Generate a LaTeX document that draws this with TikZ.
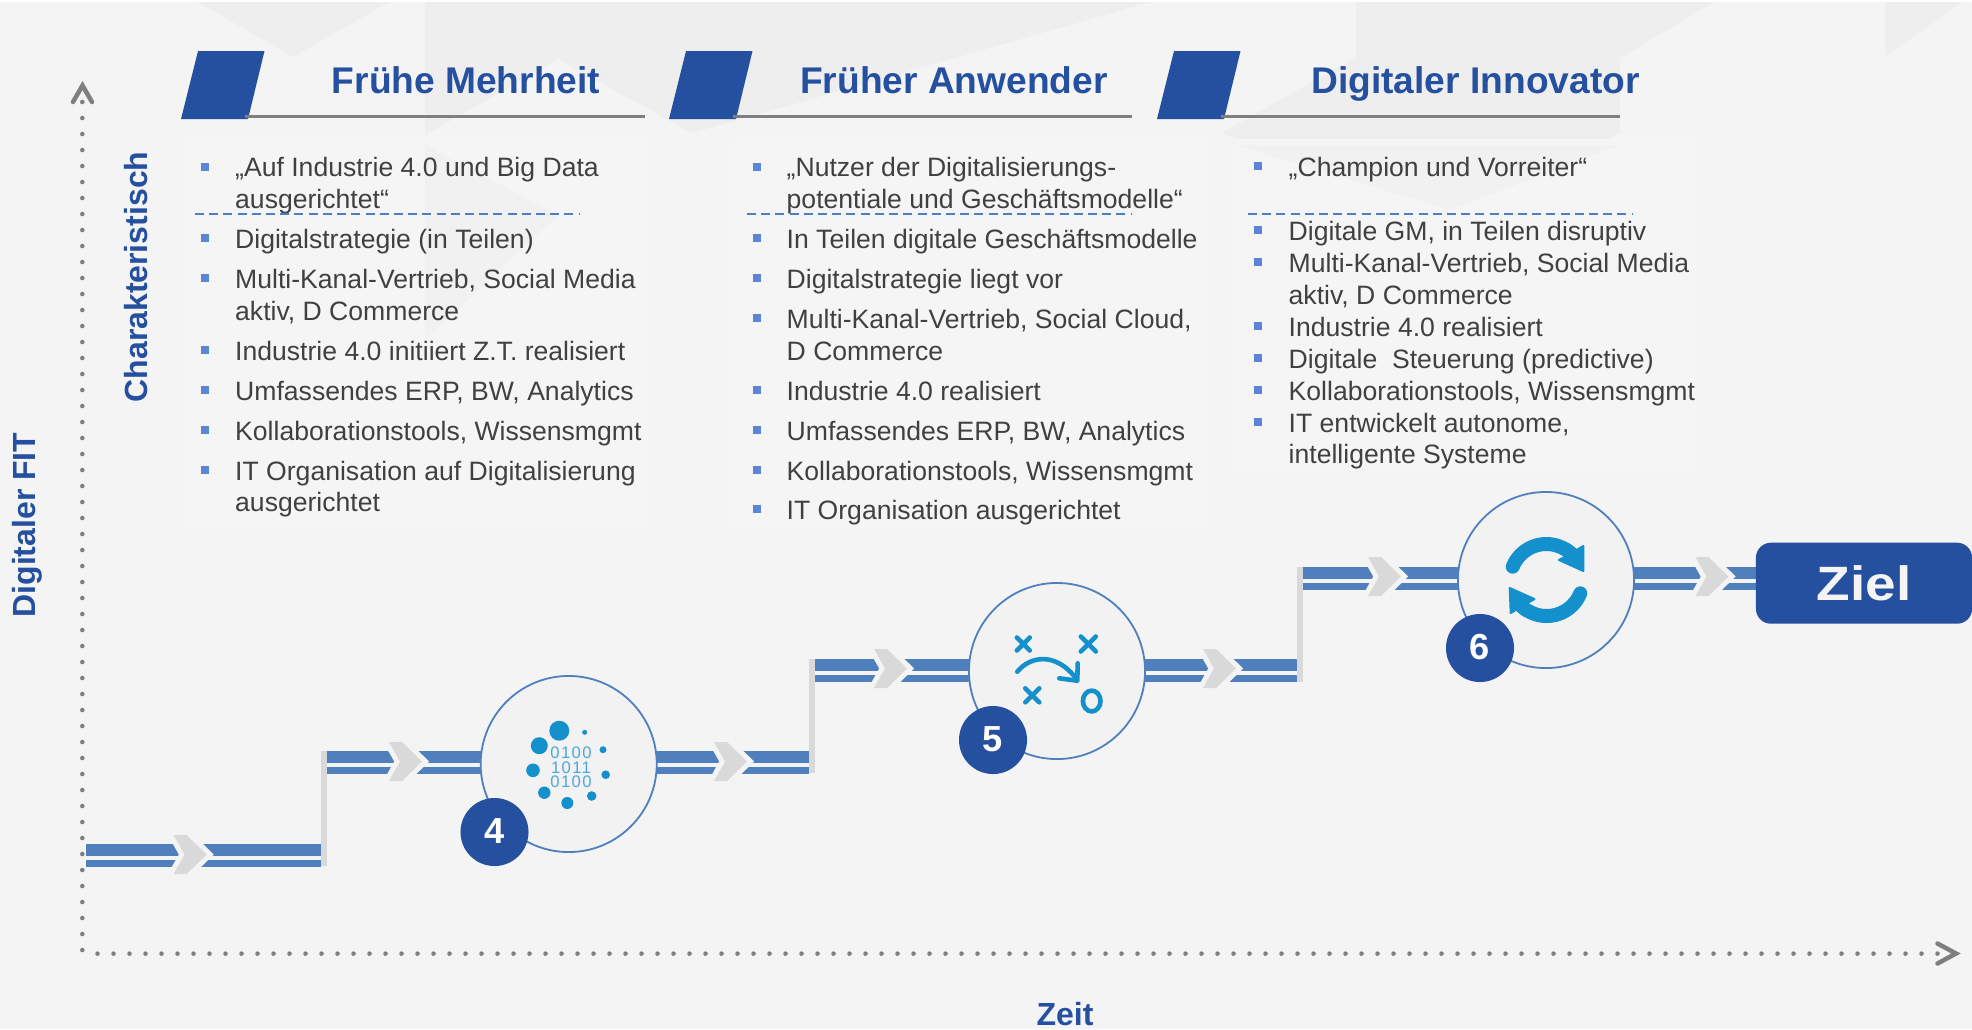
\documentclass[tikz,border=0pt]{standalone}
\usepackage{fontspec}
\setmainfont{Liberation Sans}
\usetikzlibrary{calc}
\definecolor{bgc}{HTML}{F4F4F4}
\definecolor{bgdark}{HTML}{EEEEEE}
\definecolor{bgmid}{HTML}{F1F1F1}
\definecolor{panelc}{HTML}{F5F5F5}
\definecolor{stagec}{HTML}{F2F2F2}
\definecolor{navy}{HTML}{24509F}
\definecolor{bandc}{HTML}{4F80BD}
\definecolor{iconc}{HTML}{1490CD}
\definecolor{iconl}{HTML}{4AA8DD}
\definecolor{chevc}{HTML}{D9D9D9}
\definecolor{axisc}{HTML}{7F7F7F}
\definecolor{bodyc}{HTML}{404040}
\definecolor{bulc}{HTML}{5B86D6}
\definecolor{dashc}{HTML}{4A7EC6}
\newcommand\PX{0.28453pt}
\newcommand\bodyfnt{\fontsize{7.56pt}{9pt}\selectfont}
\newcommand\titlefnt{\fontsize{10.56pt}{12pt}\selectfont\bfseries}
\newcommand\axisfnt{\fontsize{9.1pt}{11pt}\selectfont\bfseries}
\newcommand\badgefnt{\fontsize{10.3pt}{12pt}\selectfont\bfseries}
\newcommand\binfnt{\fontsize{4.75pt}{6pt}\selectfont\addfontfeature{LetterSpace=8}}
\tikzset{
  x=0.01cm,y=-0.01cm,
  bodytext/.style={anchor=base west,inner sep=0pt,font=\bodyfnt,text=bodyc},
  titletext/.style={anchor=base,inner sep=0pt,font=\titlefnt,text=navy},
  axistext/.style={inner sep=0pt,font=\axisfnt,text=navy},
  bandthick/.style={draw=bandc,line width=12*\PX},
  bandthin/.style={draw=bandc,line width=6.5*\PX},
  riser/.style={draw=chevc,line width=6*\PX},
  stage/.style={circle,draw=bandc,fill=stagec,line width=1.8*\PX,minimum size=176*\PX,inner sep=0pt},
  badge/.style={circle,fill=navy,text=white,font=\badgefnt,minimum size=68*\PX,inner sep=0pt},
  bintext/.style={inner sep=0pt,font=\binfnt,text=iconl},
  headline/.style={draw=axisc,line width=3*\PX},
  dashline/.style={draw=dashc,line width=2.5*\PX,dash pattern=on 9*\PX off 5.2*\PX},
  axishead/.style={draw=axisc,line width=4.5*\PX,line cap=round,line join=miter},
  iconline/.style={draw=iconc,line width=4.6*\PX,line cap=round},
}
\newcommand\chevronmark[2]{%
  \path[draw=bgc,line width=10*\PX,line join=miter,fill=bgc] (#1,#2-19.5) -- (#1+13,#2-19.5) -- (#1+33,#2) -- (#1+13,#2+19.5) -- (#1,#2+19.5) -- (#1+11,#2) -- cycle;
  \fill[chevc] (#1,#2-19.5) -- (#1+13,#2-19.5) -- (#1+33,#2) -- (#1+13,#2+19.5) -- (#1,#2+19.5) -- (#1+11,#2) -- cycle;}
\newcommand\stepband[2]{%
  \draw[bandthick] (#1) -- (#2);
  \draw[bandthin] ($(#1)+(0,13.25)$) -- ($(#2)+(0,13.25)$);}
\newcommand\crossmark[3]{%
  \draw[iconline] (#1-#3,#2-#3) -- (#1+#3,#2+#3);
  \draw[iconline] (#1-#3,#2+#3) -- (#1+#3,#2-#3);}
\begin{document}
\begin{tikzpicture}
\useasboundingbox (0,0) rectangle (1972,1029);
% background
\fill[bgc] (0,0) rectangle (1972,1029);
\fill[white] (0,0) rectangle (1972,2);
\fill[bgdark!80!black!0!bgdark] (198,2) -- (389,2) -- (293,57) -- cycle;
\fill[bgdark] (425,2) -- (1150,2) -- (692,133) -- (558,59) -- (425,135) -- cycle;
\fill[bgdark] (1356,2) -- (1714,2) -- (1620,58) -- (1620,133) -- (1450,210) -- (1222,133) -- (1356,57) -- cycle;
\fill[bgdark] (1885,2) -- (1962,2) -- (1885,57) -- cycle;
\fill[panelc] (182,139) rectangle (647,530);
\fill[panelc] (733,139) rectangle (1205,530);
\fill[panelc] (1236,139) rectangle (1698,470);
\fill[bgmid] (425,145) -- (558,215) -- (425,340) -- cycle;
\fill[bgmid] (1236,145) -- (1620,145) -- (1450,210) -- cycle;

% axes
\foreach \yy in {102,118,...,950} \fill[axisc] (82.3,\yy) circle (2.3);
\foreach \xx in {97.5,113.5,...,1940} \fill[axisc] (\xx,953.6) circle (2.3);
\coordinate (axtopl) at (73,102);
\coordinate (axtop) at (82.5,85.5);
\coordinate (axtopr) at (92,102);
\draw[axishead] (axtopl) -- (axtop) -- (axtopr);
\coordinate (axrt) at (1937.5,943.5);
\coordinate (axr) at (1956,953.5);
\coordinate (axrb) at (1937.5,963.5);
\draw[axishead] (axrt) -- (axr) -- (axrb);
\node[axistext,rotate=90] (lblfit) at (27.5,525) {Digitaler FIT};
\node[axistext,rotate=90] (lblchar) at (136,277) {Charakteristisch};
\node[axistext] (lblzeit) at (1065,1014) {Zeit};

% headers
\foreach \dx/\ll/\lr in {0/245/644.6,488/733/1132,976/1221/1620}{
  \fill[navy] (181+\dx,119) -- (248+\dx,119) -- (264.5+\dx,51) -- (198+\dx,51) -- cycle;
  \draw[headline] (\ll,116.7) -- (\lr,116.7);
}
\node[titletext] (t1) at (466,93) {Frühe Mehrheit};
\node[titletext] (t2) at (954,93) {Früher Anwender};
\node[titletext] (t3) at (1475.5,93) {Digitaler Innovator};

% column 1
\foreach \yy in {176.5,248,288,360,400,440,480} \fill[bulc] (201,\yy-14) rectangle +(8,8);
\node[bodytext] (a1) at (234.5,176.5) {„Auf Industrie 4.0 und Big Data};
\node[bodytext] (a2) at (234.5,208) {ausgerichtet“};
\node[bodytext] (a3) at (234.5,248) {Digitalstrategie (in Teilen)};
\node[bodytext] (a4) at (234.5,288) {Multi-Kanal-Vertrieb, Social Media};
\node[bodytext] (a5) at (234.5,320) {aktiv, D Commerce};
\node[bodytext] (a6) at (234.5,360) {Industrie 4.0 initiiert Z.T. realisiert};
\node[bodytext] (a7) at (234.5,400) {Umfassendes ERP, BW, Analytics};
\node[bodytext] (a8) at (234.5,440) {Kollaborationstools, Wissensmgmt};
\node[bodytext] (a9) at (234.5,480) {IT Organisation auf Digitalisierung};
\node[bodytext] (a10) at (234.5,511.5) {ausgerichtet};
\draw[dashline] (195,214) -- (579,214);

% column 2
\foreach \yy in {176.5,248,288,327.5,400,440,480,519} \fill[bulc] (753,\yy-14) rectangle +(8,8);
\node[bodytext] (b1) at (786,176.5) {„Nutzer der Digitalisierungs-};
\node[bodytext] (b2) at (786,208) {potentiale und Geschäftsmodelle“};
\node[bodytext] (b3) at (786,248) {In Teilen digitale Geschäftsmodelle};
\node[bodytext] (b4) at (786,288) {Digitalstrategie liegt vor};
\node[bodytext] (b5) at (786,328) {Multi-Kanal-Vertrieb, Social Cloud,};
\node[bodytext] (b6) at (786,360) {D Commerce};
\node[bodytext] (b7) at (786,400) {Industrie 4.0 realisiert};
\node[bodytext] (b8) at (786,440) {Umfassendes ERP, BW, Analytics};
\node[bodytext] (b9) at (786,480) {Kollaborationstools, Wissensmgmt};
\node[bodytext] (b10) at (786,519) {IT Organisation ausgerichtet};
\draw[dashline] (747,214) -- (1132,214);

% column 3
\foreach \yy in {176,240,272,336,368,400,432} \fill[bulc] (1254,\yy-14) rectangle +(8,8);
\node[bodytext] (c1) at (1288,176) {„Champion und Vorreiter“};
\node[bodytext] (c2) at (1288,240) {Digitale GM, in Teilen disruptiv};
\node[bodytext] (c3) at (1288,272) {Multi-Kanal-Vertrieb, Social Media};
\node[bodytext] (c4t) at (1288,304) {aktiv, D Commerce};
\node[bodytext] (c5t) at (1288,336) {Industrie 4.0 realisiert};
\node[bodytext] (c6t) at (1288,368) {Digitale\ \ Steuerung (predictive)};
\node[bodytext] (c7) at (1288,400) {Kollaborationstools, Wissensmgmt};
\node[bodytext] (c8) at (1288,432) {IT entwickelt autonome,};
\node[bodytext] (c9) at (1288,463.5) {intelligente Systeme};
\draw[dashline] (1248,214) -- (1633,214);

% staircase coordinates
\coordinate (s1a) at (86,850);    \coordinate (s1b) at (321,850);
\coordinate (s2a) at (327,757);   \coordinate (s2b) at (809,757);
\coordinate (s3a) at (815,665);   \coordinate (s3b) at (1297,665);
\coordinate (s4a) at (1303,573.3);\coordinate (s4b) at (1770,573.3);
\coordinate (r1b) at (324,866);   \coordinate (r1t) at (324,751);
\coordinate (r2b) at (812,773);   \coordinate (r2t) at (812,658.5);
\coordinate (r3b) at (1300,682);  \coordinate (r3t) at (1300,567);
\stepband{s1a}{s1b}
\stepband{s2a}{s2b}
\stepband{s3a}{s3b}
\stepband{s4a}{s4b}
\draw[riser] (r1b) -- (r1t);
\draw[riser] (r2b) -- (r2t);
\draw[riser] (r3b) -- (r3t);
\chevronmark{173.6}{854.5}
\chevronmark{389}{761.5}
\chevronmark{714}{761.5}
\chevronmark{874}{668.5}
\chevronmark{1203}{668.5}
\chevronmark{1368}{576.5}
\chevronmark{1695.5}{576.5}

% stage circles
\node[stage] (st4) at (568.7,764) {};
\node[stage] (st5) at (1057,671) {};
\node[stage] (st6) at (1546,580) {};

% icon 4
\foreach \cx/\cy/\cr in {559.3/730.7/10,539.3/745.7/8.5,584.7/732.3/2.5,603/749.7/3.5,605.7/774.7/4.3,533/770.3/6.8,544.3/792.7/6.2,567.3/803/6,591.7/796/4.8}
  \fill[iconc] (\cx,\cy) circle (\cr);
\node[bintext] (bin1) at (571,752.3) {0100};
\node[bintext] (bin2) at (571,767.7) {1011};
\node[bintext] (bin3) at (571,782) {0100};

% icon 5
\crossmark{1023.3}{644}{6.5}
\crossmark{1088.3}{644}{7.5}
\crossmark{1032.3}{695.3}{7}
\draw[iconc,line width=4.6*\PX] (1091.7,701) ellipse (8.8 and 10.4);
\draw[iconline] (1017.3,671.7) .. controls (1030,656) and (1055,652) .. (1075,677);
\draw[iconline,line join=round] (1077.7,663.3) -- (1077.3,680.7) -- (1059.3,678.3);

% icon 6
\draw[draw=iconc,line width=14*\PX,line cap=round] (1512.7,566.7) arc[start angle=-158,end angle=-60,radius=36.3];
\draw[draw=iconc,line width=14*\PX] (1564.6,548.6) arc[start angle=-60,end angle=-35,radius=36.3];
\fill[iconc,draw=iconc,line width=2*\PX,line join=round] (1583.3,546) -- (1583.3,571) -- (1559,560) -- cycle;
\draw[draw=iconc,line width=14*\PX,line cap=round] (1580.3,593.3) arc[start angle=22,end angle=120,radius=36.3];
\draw[draw=iconc,line width=14*\PX] (1528.4,611.4) arc[start angle=120,end angle=145,radius=36.3];
\fill[iconc,draw=iconc,line width=2*\PX,line join=round] (1509.7,588) -- (1510.7,613) -- (1534.5,599) -- cycle;

% badges
\node[badge] (bd4) at (494.5,832) {\raisebox{0.8pt}{4}};
\node[badge] (bd5) at (993,740) {\raisebox{0.8pt}{5}};
\node[badge] (bd6) at (1480,648) {\raisebox{0.6pt}{6}};

% goal
\node[fill=navy,rounded corners=15*\PX,minimum width=216*\PX,minimum height=81*\PX,inner sep=0pt,text=bgc,font=\fontsize{13.7pt}{15pt}\selectfont\bfseries] (ziel) at (1864,583.2) {\scalebox{1.14}[1]{Ziel}};
\end{tikzpicture}
\end{document}
